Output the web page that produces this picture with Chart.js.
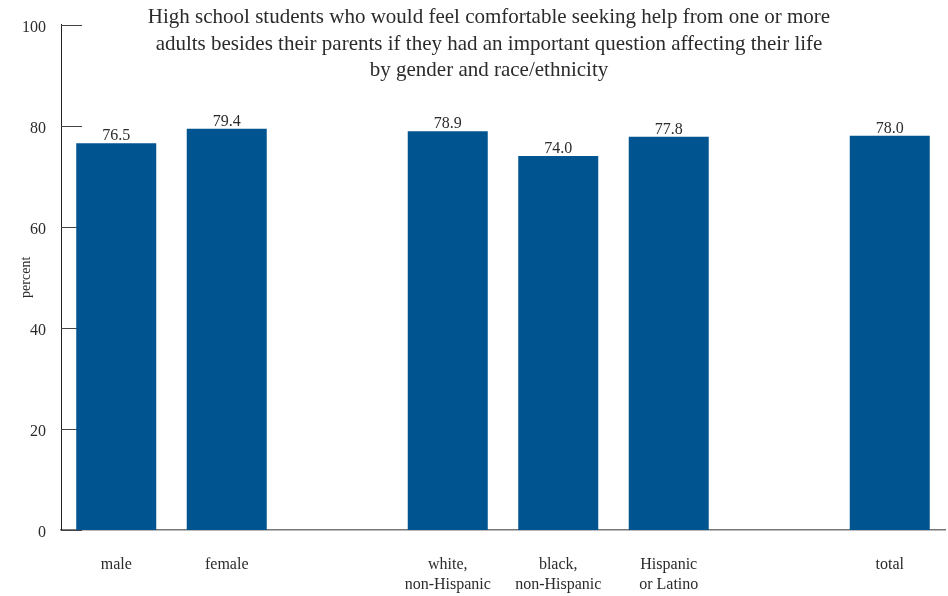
<!DOCTYPE html>
<html>
<head>
<meta charset="utf-8">
<script src="https://cdn.jsdelivr.net/npm/chart.js@4.4.1/dist/chart.umd.min.js"></script>
<style>
  html, body { margin: 0; padding: 0; background: #fff; }
  #wrap { width: 948px; height: 596px; position: relative; }
</style>
</head>
<body>
<div id="wrap"><canvas id="chart"></canvas></div>
<script>
// categories (empty strings are the spacer slots between groups)
const categories = [
  'male',
  'female',
  '',
  ['white,', 'non-Hispanic'],
  ['black,', 'non-Hispanic'],
  ['Hispanic', 'or Latino'],
  '',
  'total'
];
const percentValues = [76.5, 79.4, null, 78.9, 74.0, 77.8, null, 78.0];
const yTicks = [0, 20, 40, 60, 80, 100];
const titleLines = [
  'High school students who would feel comfortable seeking help from one or more',
  'adults besides their parents if they had an important question affecting their life',
  'by gender and race/ethnicity'
];

const SERIF = '"Liberation Serif", "DejaVu Serif", serif';
const TEXT_COLOR = '#2b2b2b';
const BAR_COLOR = '#00548F';

// short tick marks on the inner side of the y axis, drawn under the bars
const innerTicks = {
  id: 'innerTicks',
  beforeDatasetsDraw(chart) {
    const { ctx, chartArea, scales } = chart;
    ctx.save();
    ctx.strokeStyle = '#444';
    ctx.lineWidth = 1;
    yTicks.forEach(v => {
      const y = Math.round(scales.y.getPixelForValue(v)) + 0.5;
      ctx.beginPath();
      ctx.moveTo(chartArea.left, y);
      ctx.lineTo(chartArea.left + 21, y);
      ctx.stroke();
    });
    ctx.restore();
  }
};

// value labels above each bar
const valueLabels = {
  id: 'valueLabels',
  afterDatasetsDraw(chart) {
    const { ctx } = chart;
    const meta = chart.getDatasetMeta(0);
    ctx.save();
    ctx.font = '16px ' + SERIF;
    ctx.fillStyle = TEXT_COLOR;
    ctx.textAlign = 'center';
    ctx.textBaseline = 'alphabetic';
    meta.data.forEach((bar, i) => {
      const v = percentValues[i];
      if (v === null) return;
      ctx.fillText(v.toFixed(1), bar.x, bar.y - 3);
    });
    ctx.restore();
  }
};

// the title sits inside the plot area, so draw it by hand
const titleText = {
  id: 'titleText',
  afterDraw(chart) {
    const { ctx } = chart;
    ctx.save();
    ctx.font = '21px ' + SERIF;
    ctx.fillStyle = TEXT_COLOR;
    ctx.textAlign = 'center';
    ctx.textBaseline = 'alphabetic';
    titleLines.forEach((line, i) => {
      ctx.fillText(line, 489, 23 + i * 26.5);
    });
    ctx.restore();
  }
};

new Chart(document.getElementById('chart'), {
  type: 'bar',
  data: {
    labels: categories,
    datasets: [{
      data: percentValues,
      backgroundColor: BAR_COLOR,
      borderWidth: 0,
      barPercentage: 0.724,
      categoryPercentage: 1
    }]
  },
  options: {
    responsive: true,
    maintainAspectRatio: false,
    animation: false,
    layout: { padding: { top: 24, right: 3, left: 0, bottom: 0 } },
    plugins: {
      legend: { display: false },
      tooltip: { enabled: false }
    },
    scales: {
      x: {
        grid: { display: false, drawTicks: false },
        border: { display: true, color: '#777', width: 1.5 },
        ticks: {
          color: TEXT_COLOR,
          font: { family: SERIF, size: 16, lineHeight: 1.3 },
          padding: 24,
          maxRotation: 0,
          autoSkip: false
        },
        afterFit(scale) { scale.height = 66; }
      },
      y: {
        min: 0,
        max: 100,
        afterBuildTicks(scale) { scale.ticks = yTicks.map(v => ({ value: v })); },
        grid: { display: false, drawTicks: false },
        border: { display: true, color: '#222', width: 1 },
        ticks: {
          color: TEXT_COLOR,
          font: { family: SERIF, size: 16 },
          padding: 15,
          labelOffset: 3
        },
        title: {
          display: true,
          text: 'percent',
          color: TEXT_COLOR,
          font: { family: SERIF, size: 14 },
          padding: { top: 18, bottom: 0 }
        },
        afterFit(scale) { scale.width = 61; }
      }
    }
  },
  plugins: [innerTicks, valueLabels, titleText]
});
</script>
</body>
</html>
